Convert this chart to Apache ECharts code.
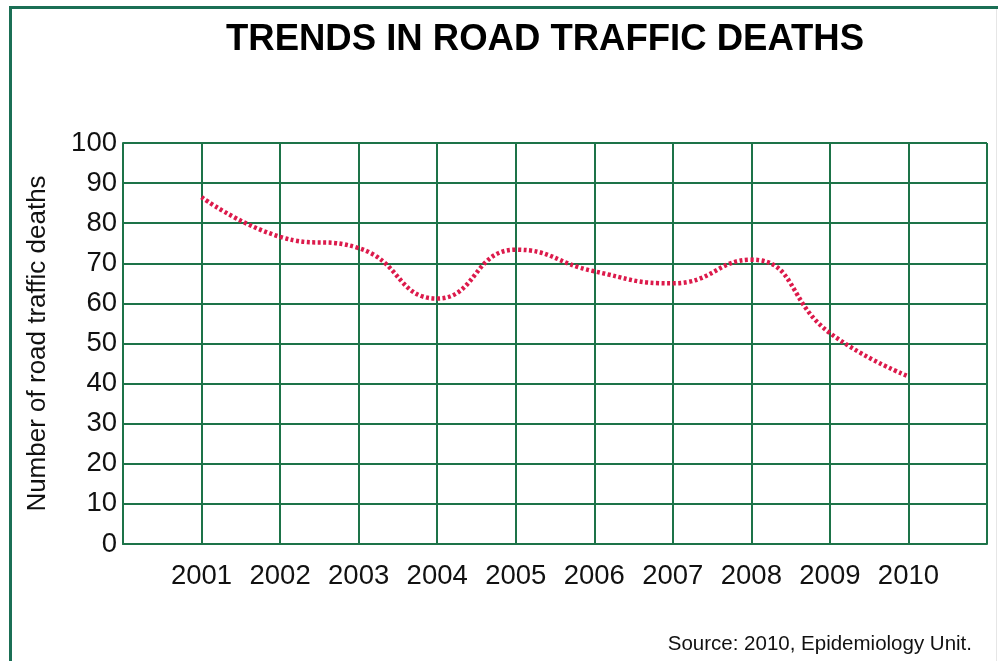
<!DOCTYPE html>
<html>
<head>
<meta charset="utf-8">
<title>Trends in road traffic deaths</title>
<script src="https://cdn.jsdelivr.net/npm/echarts@6/dist/echarts.min.js"></script>
<style>
  html, body { margin: 0; padding: 0; background: #fff; }
  #chart { width: 998px; height: 661px; }
</style>
</head>
<body>
<div id="chart"></div>
<script>
// data
const years = [2001, 2002, 2003, 2004, 2005, 2006, 2007, 2008, 2009, 2010];
const deaths = [86.5, 76.6, 73.8, 61.2, 73.4, 68.0, 65.0, 70.9, 52.6, 41.8];
const yTicks = [0, 10, 20, 30, 40, 50, 60, 70, 80, 90, 100];

const green = '#1d7348';
const frame = '#1b6f55';
const sans = "'Liberation Sans', Arial, Helvetica, sans-serif";

let myChart = echarts.init(document.getElementById('chart'), null, { renderer: 'canvas' });
myChart.setOption({
  backgroundColor: '#fff',
  animation: false,
  title: {
    text: 'TRENDS IN ROAD TRAFFIC DEATHS',
    left: 540,
    top: 16,
    textAlign: 'center',
    textStyle: {
      fontFamily: sans,
      fontWeight: 'bold',
      fontSize: 36.5,
      color: '#000'
    }
  },
  grid: {
    left: 123,
    right: 11,
    top: 143,
    bottom: 117,
    containLabel: false,
    outerBoundsMode: 'none'
  },
  xAxis: {
    type: 'value',
    min: 2000,
    max: 2011,
    interval: 1,
    axisLine: { show: true, lineStyle: { color: green, width: 2 } },
    axisTick: { show: false },
    splitLine: { show: true, lineStyle: { color: green, width: 2 } },
    axisLabel: {
      margin: 18,
      fontFamily: sans,
      fontSize: 27.5,
      color: '#111',
      showMinLabel: true,
      showMaxLabel: true,
      // only the years that have data get a label
      formatter: function (v) { return years.indexOf(v) >= 0 ? String(v) : ''; }
    }
  },
  yAxis: {
    type: 'value',
    min: yTicks[0],
    max: yTicks[yTicks.length - 1],
    interval: 10,
    name: 'Number of road traffic deaths',
    nameLocation: 'middle',
    nameGap: 72,
    nameTextStyle: { fontFamily: sans, fontSize: 26, color: '#111' },
    axisLine: { show: true, lineStyle: { color: green, width: 2 } },
    axisTick: { show: false },
    splitLine: { show: true, lineStyle: { color: green, width: 2 } },
    axisLabel: {
      margin: 6,
      fontFamily: sans,
      fontSize: 27.5,
      color: '#111',
      padding: [0, 0, 6, 0]
    }
  },
  series: [
    {
      name: 'Deaths',
      type: 'line',
      smooth: true,
      symbol: 'none',
      data: years.map((y, i) => [y, deaths[i]]),
      lineStyle: { color: '#dc1a4b', width: 4.5, type: [3, 2.5] },
      z: 5
    }
  ],
  graphic: [
    // frame on top and left
    { type: 'line', shape: { x1: 9, y1: 7.5, x2: 998, y2: 7.5 }, style: { stroke: frame, lineWidth: 3 } },
    { type: 'line', shape: { x1: 10.5, y1: 6, x2: 10.5, y2: 661 }, style: { stroke: frame, lineWidth: 3 } },
    { type: 'line', shape: { x1: 996.5, y1: 9, x2: 996.5, y2: 661 }, style: { stroke: '#e6e6e6', lineWidth: 1 } },
    {
      type: 'text',
      right: 26,
      top: 634,
      style: {
        text: 'Source: 2010, Epidemiology Unit.',
        fontFamily: sans,
        fontSize: 20.5,
        fill: '#111'
      }
    }
  ]
});
</script>
</body>
</html>
